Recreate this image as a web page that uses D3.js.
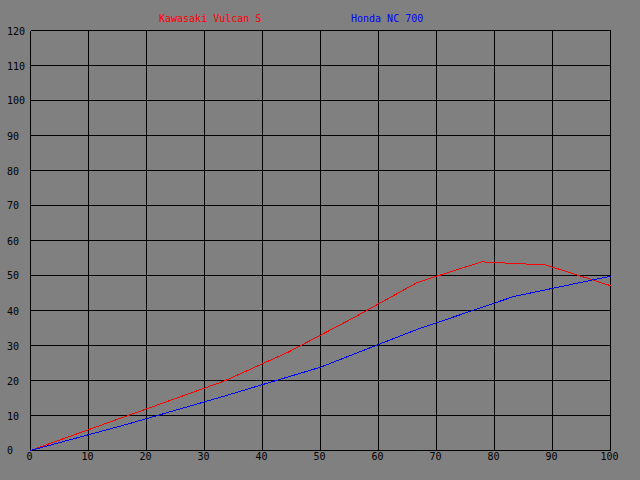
<!DOCTYPE html>
<html><head><meta charset="utf-8">
<script src="https://cdn.jsdelivr.net/npm/d3@7"></script>
<style>html,body{margin:0;padding:0;background:#808080;}svg{display:block;}</style>
</head><body>
<script>
const seriesNames = ["Kawasaki Vulcan S", "Honda NC 700"];
const seriesColors = ["#ff0000", "#0000ff"];
const kawasakiX = [0, 11.11, 22.22, 33.33, 44.44, 55.56, 66.67, 77.78, 88.89, 100];
const kawasakiY = [0, 6.6, 13.2, 19.8, 28.1, 37.8, 48.0, 53.9, 53.0, 47.1];
const hondaX = [0, 16.67, 33.33, 50, 66.67, 83.33, 100];
const hondaY = [0, 7.5, 15.5, 23.8, 34.6, 44.0, 49.8];
const xTicks = [0,10,20,30,40,50,60,70,80,90,100];
const yTicks = [0,10,20,30,40,50,60,70,80,90,100,110,120];

const W = 640, H = 480;
const svg = d3.select("body").append("svg").attr("width", W).attr("height", H);
svg.append("rect").attr("width", W).attr("height", H).attr("fill", "#808080");

const x = d3.scaleLinear().domain([0, 100]).range([30.5, 610.5]);
const y = d3.scaleLinear().domain([0, 120]).range([450.5, 30.5]);

const font = "'DejaVu Sans Mono', monospace";

// grid
svg.append("g").selectAll("line").data(xTicks).join("line")
  .attr("x1", d => x(d)).attr("x2", d => x(d)).attr("y1", y(120)).attr("y2", y(0))
  .attr("stroke", "#000").attr("stroke-width", 1).attr("shape-rendering", "crispEdges");
svg.append("g").selectAll("line").data(yTicks).join("line")
  .attr("y1", d => y(d)).attr("y2", d => y(d)).attr("x1", x(0)).attr("x2", x(100))
  .attr("stroke", "#000").attr("stroke-width", 1).attr("shape-rendering", "crispEdges");

// y labels
svg.append("g").selectAll("text").data(yTicks).join("text")
  .attr("x", 7).attr("y", d => Math.round(y(d)) + (d === 0 ? 3 : 4))
  .attr("font-family", font).attr("font-size", 10).attr("fill", "#000")
  .text(d => d);
// x labels
svg.append("g").selectAll("text").data(xTicks).join("text")
  .attr("x", d => x(d) - 1).attr("y", 460)
  .attr("text-anchor", "middle")
  .attr("font-family", font).attr("font-size", 10).attr("fill", "#000")
  .text(d => d);

// lines
const line = d3.line().x(d => x(d[0])).y(d => y(d[1]));
const series = [
  kawasakiX.map((v, i) => [v, kawasakiY[i]]),
  hondaX.map((v, i) => [v, hondaY[i]])
];
series.forEach((s, i) => {
  svg.append("path").datum(s).attr("d", line)
    .attr("fill", "none").attr("stroke", seriesColors[i]).attr("stroke-width", 1)
    .attr("shape-rendering", "crispEdges");
});

// legend
const legendX = [159, 351];
seriesNames.forEach((n, i) => {
  svg.append("text").attr("x", legendX[i]).attr("y", 22)
    .attr("font-family", font).attr("font-size", 10).attr("fill", seriesColors[i])
    .text(n);
});
</script>
</body></html>
